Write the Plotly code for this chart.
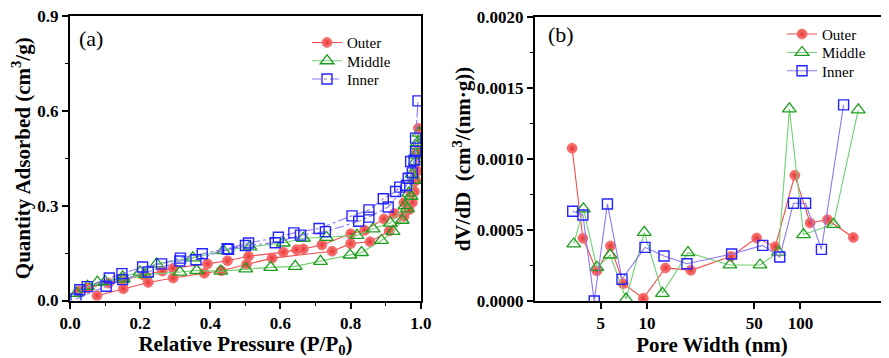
import plotly.graph_objects as go

# ---------------- Panel (a): N2 isotherms ----------------
outer_p = [0.077, 0.152, 0.223, 0.294, 0.383, 0.431, 0.503, 0.576, 0.747, 0.800, 0.855, 0.910, 0.952, 0.966,
           0.976, 0.982, 0.986, 0.990, 0.993, 0.993,
           0.988, 0.985, 0.980, 0.972, 0.952, 0.924, 0.895, 0.840, 0.800, 0.718, 0.665, 0.646, 0.608,
           0.509, 0.449, 0.392, 0.294, 0.263, 0.210, 0.150, 0.110, 0.050, 0.025]
outer_q = [0.015, 0.037, 0.057, 0.071, 0.086, 0.094, 0.114, 0.134, 0.156, 0.180, 0.186, 0.220, 0.266, 0.287,
           0.310, 0.345, 0.380, 0.410, 0.463, 0.545,
           0.470, 0.410, 0.375, 0.340, 0.310, 0.275, 0.258, 0.222, 0.211, 0.176, 0.163, 0.161, 0.153,
           0.140, 0.126, 0.116, 0.102, 0.093, 0.080, 0.065, 0.055, 0.040, 0.030]

middle_p = [0.019, 0.078, 0.152, 0.214, 0.313, 0.361, 0.430, 0.501, 0.572, 0.642, 0.714, 0.798, 0.831, 0.888,
            0.921, 0.947, 0.962, 0.972, 0.980, 0.985, 0.990, 0.995,
            0.990, 0.985, 0.975, 0.965, 0.955, 0.913, 0.864, 0.818, 0.731, 0.665, 0.608, 0.513, 0.437,
            0.350, 0.247, 0.200, 0.150, 0.100, 0.050]
middle_q = [0.023, 0.058, 0.068, 0.082, 0.090, 0.095, 0.093, 0.100, 0.105, 0.108, 0.124, 0.144, 0.152, 0.190,
            0.219, 0.254, 0.290, 0.330, 0.380, 0.440, 0.500, 0.530,
            0.490, 0.460, 0.400, 0.340, 0.300, 0.245, 0.227, 0.206, 0.200, 0.197, 0.182, 0.170, 0.158,
            0.135, 0.116, 0.090, 0.075, 0.060, 0.045]

inner_p = [0.017, 0.103, 0.150, 0.223, 0.313, 0.359, 0.452, 0.500, 0.585, 0.657, 0.728, 0.823, 0.852, 0.907,
           0.959, 0.964, 0.976, 0.981, 0.992,
           0.985, 0.985, 0.971, 0.940, 0.928, 0.893, 0.852, 0.804, 0.710, 0.638, 0.594, 0.509, 0.448,
           0.377, 0.315, 0.261, 0.207, 0.148, 0.112, 0.049, 0.028]
inner_q = [0.005, 0.045, 0.066, 0.090, 0.125, 0.129, 0.162, 0.174, 0.183, 0.207, 0.218, 0.251, 0.264, 0.296,
           0.364, 0.387, 0.404, 0.444, 0.632,
           0.514, 0.472, 0.440, 0.359, 0.345, 0.322, 0.287, 0.268, 0.228, 0.214, 0.200, 0.182, 0.164,
           0.148, 0.134, 0.116, 0.106, 0.085, 0.071, 0.044, 0.034]

# ---------------- Panel (b): pore size distribution ----------------
outer_w = [3.25, 3.82, 4.71, 5.78, 7.0, 9.46, 13.2, 19.3, 35.2, 51.8, 68.5, 91.8, 115.6, 150, 221]
outer_d = [0.001076, 0.000442, 0.000212, 0.000388, 0.000122, 0.000019, 0.000233, 0.000216, 0.000313,
           0.000444, 0.000383, 0.000886, 0.000550, 0.000573, 0.000447]
middle_w = [3.33, 3.85, 4.71, 5.76, 7.3, 9.6, 12.6, 18.5, 34.7, 54.5, 72, 84.7, 104.7, 164, 238]
middle_d = [0.000402, 0.000649, 0.000237, 0.000324, 0.000014, 0.000484, 0.000054, 0.000341, 0.000254,
            0.000254, 0.000345, 0.001354, 0.000468, 0.000540, 0.001347]
inner_w = [3.28, 3.82, 4.53, 5.52, 6.87, 9.7, 12.9, 18.2, 35.6, 56.8, 73.3, 90, 108, 137, 191]
inner_d = [0.000632, 0.000606, 0.0, 0.000684, 0.000153, 0.000378, 0.000317, 0.000263, 0.000331,
           0.000392, 0.000310, 0.000689, 0.000689, 0.000364, 0.001382]

series_names = ["Outer", "Middle", "Inner"]

# tick values / labels
xa_ticks = [0.0, 0.2, 0.4, 0.6, 0.8, 1.0]
xa_labels = ["0.0", "0.2", "0.4", "0.6", "0.8", "1.0"]
ya_ticks = [0.0, 0.3, 0.6, 0.9]
ya_labels = ["0.0", "0.3", "0.6", "0.9"]
xb_ticks = [5, 10, 50, 100]
xb_labels = ["5", "10", "50", "100"]
yb_ticks = [0.0, 0.0005, 0.0010, 0.0015, 0.0020]
yb_labels = ["0.0000", "0.0005", "0.0010", "0.0015", "0.0020"]

FONT = "Liberation Serif"
GRN_M, GRN_L = "#1c9e1c", "#72d072"
BLU_M, BLU_L = "#2424ff", "#8f78f2"

styles = {
    "Outer": dict(marker=dict(symbol="circle", size=10, color="#ff7c7c",
                              gradient=dict(type="radial", color="#e43434"),
                              line=dict(color="#e03c3c", width=0.5)),
                  line=dict(color="#f25050", width=1.1)),
    "Middle": dict(marker=dict(symbol="triangle-up-open", size=12, color=GRN_M, line=dict(color=GRN_M, width=1.3)),
                   line=dict(color=GRN_L, width=1.1)),
    "Inner": dict(marker=dict(symbol="square-open", size=10, color=BLU_M, line=dict(color=BLU_M, width=1.4)),
                  line=dict(color=BLU_L, width=1.1)),
}

# The page body has an 8px margin: lay the figure out in reference pixels minus that offset.
OFF = 8
W, H = 881, 350


def px(x):
    return (x - OFF) / W


def py(y):
    return 1 - (y - OFF) / H


fig = go.Figure()

data_a = {"Outer": (outer_p, outer_q), "Middle": (middle_p, middle_q), "Inner": (inner_p, inner_q)}
data_b = {"Outer": (outer_w, outer_d), "Middle": (middle_w, middle_d), "Inner": (inner_w, inner_d)}

legend_rows_a = [42.7, 61.0, 79.3]
legend_rows_b = [34.3, 52.7, 71.0]
legend_layout = {}
for i, name in enumerate(series_names):
    xs, ys = data_a[name]
    ln = dict(styles[name]["line"])
    if name == "Inner":
        ln["dash"] = "dashdot"
    lg = "legend" if i == 0 else f"legend{i + 1}"
    fig.add_trace(go.Scatter(x=xs, y=ys, mode="lines+markers", name=name,
                             marker=styles[name]["marker"], line=ln,
                             xaxis="x", yaxis="y", legend=lg))
    legend_layout[lg] = dict(x=px(307), y=py(legend_rows_a[i]), xanchor="left", yanchor="middle",
                             bgcolor="rgba(0,0,0,0)", font=dict(family=FONT, size=15, color="black"),
                             itemwidth=30, visible=True)
for i, name in enumerate(series_names):
    xs, ys = data_b[name]
    lg = f"legend{i + 4}"
    fig.add_trace(go.Scatter(x=xs, y=ys, mode="lines+markers", name=name,
                             marker=styles[name]["marker"], line=styles[name]["line"],
                             xaxis="x2", yaxis="y2", legend=lg))
    legend_layout[lg] = dict(x=px(782), y=py(legend_rows_b[i]), xanchor="left", yanchor="middle",
                             bgcolor="rgba(0,0,0,0)", font=dict(family=FONT, size=15, color="black"),
                             itemwidth=30, visible=True)

tickfont = dict(family=FONT, size=17, color="black")
titlefont = dict(family=FONT, size=21, color="black", weight="bold")
axis_common = dict(showline=True, linecolor="black", linewidth=2, ticks="outside", ticklen=6,
                   tickwidth=1.5, tickcolor="black", showgrid=False, zeroline=False, tickfont=tickfont,
                   automargin=False, tickmode="array", ticklabeloverflow="allow")
minor_style = dict(ticks="outside", ticklen=3.5, tickwidth=1.2, tickcolor="black")


def bold(labels):
    return [f"<b>{t}</b>" for t in labels]


fig.update_layout(
    width=W, height=H,
    showlegend=True,
    margin=dict(l=0, r=0, t=0, b=0, pad=0),
    paper_bgcolor="white", plot_bgcolor="white",
    font=dict(family=FONT, color="black"),
    xaxis=dict(domain=[px(70), px(421)], anchor="y", range=[0, 1.0005], tickvals=xa_ticks,
               ticktext=bold(xa_labels), mirror=True, minor=dict(dtick=0.1, **minor_style),
               title=dict(text="Relative Pressure (P/P<sub>0</sub>)", font=titlefont, standoff=6),
               **axis_common),
    yaxis=dict(domain=[py(300.5), py(16)], anchor="x", range=[0, 0.9005], tickvals=ya_ticks,
               ticktext=bold(ya_labels), mirror=True, minor=dict(dtick=0.15, **minor_style),
               title=dict(text="Quantity Adsorbed (cm<sup>3</sup>/g)", font=titlefont, standoff=6),
               **axis_common),
    xaxis2=dict(domain=[px(535), 1.0], anchor="y2", type="log", range=[0.27, 2.577],
                tickvals=xb_ticks, ticktext=bold(xb_labels), mirror=True,
                title=dict(text="Pore Width (nm)", font=titlefont, standoff=4),
                **axis_common),
    yaxis2=dict(domain=[py(301), py(17)], anchor="x2", range=[0, 0.0020012], tickvals=yb_ticks,
                ticktext=bold(yb_labels), minor=dict(dtick=0.00025, **minor_style),
                title=dict(text="dV/dD  (cm<sup>3</sup>/(nm·g))", font=titlefont, standoff=0),
                **axis_common),
    annotations=[
        dict(text="(a)", x=px(77), y=py(38), xref="paper", yref="paper", xanchor="left", yanchor="middle",
             showarrow=False, font=dict(family=FONT, size=22, color="black")),
        dict(text="(b)", x=px(546), y=py(34), xref="paper", yref="paper", xanchor="left", yanchor="middle",
             showarrow=False, font=dict(family=FONT, size=22, color="black")),
    ],
    **legend_layout,
)

fig.write_html("out.html")
